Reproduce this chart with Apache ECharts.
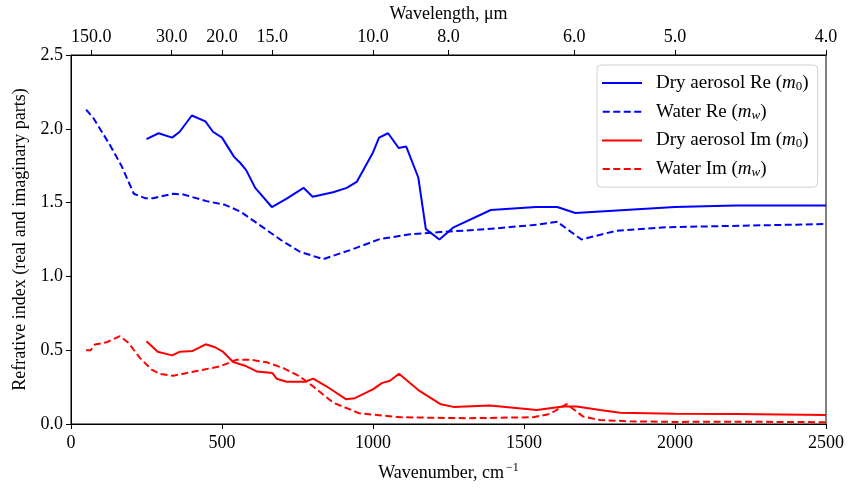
<!DOCTYPE html>
<html>
<head>
<meta charset="utf-8">
<script src="https://cdn.jsdelivr.net/npm/echarts@6/dist/echarts.min.js"></script>
<style>
  html, body { margin: 0; padding: 0; background: #fff; }
  #chart { width: 849px; height: 488px; }
</style>
</head>
<body>
<div id="chart"></div>
<script>
// Dry aerosol, real part (m0)
const dryReWn  = [250, 290, 335, 360, 400, 445, 470, 500, 540, 560, 580, 610, 665, 717, 770, 800, 868, 913, 946, 1000, 1020, 1050, 1085, 1110, 1150, 1175, 1220, 1265, 1390, 1540, 1610, 1670, 2000, 2200, 2500];
const dryRe    = [1.93, 1.97, 1.94, 1.98, 2.09, 2.05, 1.98, 1.94, 1.81, 1.77, 1.72, 1.60, 1.47, 1.53, 1.60, 1.54, 1.57, 1.60, 1.64, 1.84, 1.94, 1.97, 1.87, 1.88, 1.67, 1.32, 1.25, 1.33, 1.45, 1.47, 1.47, 1.43, 1.47, 1.48, 1.48];

// Water, real part (mw)
const waterReWn = [50, 75, 129, 167, 208, 245, 272, 339, 372, 449, 510, 560, 637, 700, 758, 835, 924, 1023, 1122, 1222, 1376, 1542, 1610, 1690, 1807, 1972, 2500];
const waterRe   = [2.13, 2.07, 1.89, 1.75, 1.56, 1.53, 1.53, 1.56, 1.555, 1.51, 1.485, 1.44, 1.33, 1.24, 1.167, 1.117, 1.178, 1.253, 1.285, 1.30, 1.32, 1.35, 1.37, 1.25, 1.31, 1.333, 1.355];

// Dry aerosol, imaginary part (m0)
const dryImWn = [250, 287, 335, 361, 403, 446, 477, 504, 537, 576, 615, 667, 681, 714, 775, 802, 847, 910, 940, 1001, 1029, 1056, 1086, 1150, 1222, 1266, 1387, 1542, 1630, 1674, 1752, 1818, 2000, 2200, 2500];
const dryIm   = [0.56, 0.49, 0.465, 0.49, 0.495, 0.54, 0.52, 0.488, 0.42, 0.395, 0.356, 0.345, 0.307, 0.286, 0.286, 0.307, 0.254, 0.168, 0.175, 0.236, 0.277, 0.293, 0.34, 0.23, 0.136, 0.116, 0.125, 0.095, 0.118, 0.118, 0.095, 0.077, 0.07, 0.068, 0.061];

// Water, imaginary part (mw)
const waterImWn = [50, 65, 79, 118, 162, 190, 228, 267, 295, 339, 383, 438, 493, 549, 593, 648, 703, 758, 802, 868, 955, 1089, 1310, 1531, 1586, 1641, 1696, 1752, 1850, 2000, 2200, 2500];
const waterIm   = [0.50, 0.50, 0.538, 0.554, 0.595, 0.55, 0.448, 0.368, 0.339, 0.327, 0.345, 0.368, 0.39, 0.436, 0.436, 0.418, 0.379, 0.322, 0.254, 0.145, 0.072, 0.046, 0.039, 0.046, 0.068, 0.135, 0.05, 0.027, 0.018, 0.014, 0.016, 0.012];

// Top-axis wavelength ticks (micrometres); placed at wavenumber = 10000 / wavelength
const wavelengthTicks = [150, 30, 20, 15, 10, 8, 6, 5, 4];

const BLUE = '#0000ff';
const RED = '#ff0000';
const FONT = 'Liberation Serif';

// Legend glyphs: a solid bar and a four-dash bar
const SOLID_ICON = 'path://M0,0H40V2H0Z';
const DASH_ICON = 'path://M0,0H7V2H0Z M10.5,0H17.5V2H10.5Z M21,0H28V2H21Z M31.5,0H38.5V2H31.5Z';

const zip = (xs, ys) => xs.map((x, i) => [x, ys[i]]);

function lineSeries(name, wn, vals, color, dashed) {
  return {
    name: name,
    type: 'line',
    data: zip(wn, vals),
    showSymbol: false,
    symbol: 'none',
    xAxisIndex: 0,
    lineStyle: { color: color, width: 2, type: dashed ? [7, 3.5] : 'solid' },
    itemStyle: { color: color },
    animation: false
  };
}

const legendRich = {
  i: { fontFamily: FONT, fontSize: 19, fontStyle: 'italic', color: '#000' },
  sub: { fontFamily: FONT, fontSize: 13, fontStyle: 'italic', color: '#000', verticalAlign: 'bottom', padding: [8, 0, 0, 0] },
  sub0: { fontFamily: FONT, fontSize: 13, color: '#000', verticalAlign: 'bottom', padding: [8, 0, 0, 0] }
};

const legendLabels = {
  'Dry aerosol Re': 'Dry aerosol Re ({i|m}{sub0|0})',
  'Water Re': 'Water Re ({i|m}{sub|w})',
  'Dry aerosol Im': 'Dry aerosol Im ({i|m}{sub0|0})',
  'Water Im': 'Water Im ({i|m}{sub|w})'
};

const chart = echarts.init(document.getElementById('chart'), null, { renderer: 'canvas' });

chart.setOption({
  animation: false,
  backgroundColor: '#fff',
  grid: {
    left: 71, right: 23, top: 55, bottom: 64,
    outerBoundsMode: 'none',
    containLabel: false,
    show: true, borderColor: '#000', borderWidth: 1
  },
  legend: {
    orient: 'vertical',
    left: 597, top: 65,
    padding: [8, 9, 8, 5],
    itemWidth: 40,
    itemHeight: 2,
    itemGap: 8.7,
    backgroundColor: '#fff',
    borderColor: '#d0d0d0',
    borderWidth: 1,
    borderRadius: 4,
    itemStyle: { borderWidth: 0 },
    textStyle: { fontFamily: FONT, fontSize: 19, color: '#000', lineHeight: 20, padding: [0, 0, 0, 9], rich: legendRich },
    formatter: (name) => legendLabels[name],
    data: [
      { name: 'Dry aerosol Re', icon: SOLID_ICON },
      { name: 'Water Re', icon: DASH_ICON },
      { name: 'Dry aerosol Im', icon: SOLID_ICON },
      { name: 'Water Im', icon: DASH_ICON }
    ]
  },
  xAxis: [
    {
      type: 'value',
      position: 'bottom',
      min: 0, max: 2500, interval: 500,
      name: 'Wavenumber, cm{sup|−1}',
      nameLocation: 'middle',
      nameGap: 38,
      nameTextStyle: {
        fontFamily: FONT, fontSize: 18, color: '#000',
        rich: { sup: { fontFamily: FONT, fontSize: 12, color: '#000', verticalAlign: 'top', padding: [0, 0, 10, 2] } }
      },
      axisLine: { show: true, onZero: false, lineStyle: { color: '#000', width: 1 } },
      axisTick: { show: true, inside: false, length: 5, lineStyle: { color: '#000' } },
      axisLabel: { fontFamily: FONT, fontSize: 18, color: '#000', margin: 10, formatter: (v) => String(v) },
      splitLine: { show: false }
    },
    {
      type: 'value',
      position: 'top',
      min: 0, max: 2500,
      name: 'Wavelength, μm',
      nameLocation: 'middle',
      nameGap: 31,
      nameTextStyle: { fontFamily: FONT, fontSize: 18, color: '#000' },
      axisLine: { show: true, onZero: false, lineStyle: { color: '#000', width: 1 } },
      axisTick: {
        show: true, inside: false, length: 5, lineStyle: { color: '#000' },
        customValues: wavelengthTicks.map(l => 10000 / l)
      },
      axisLabel: {
        fontFamily: FONT, fontSize: 18, color: '#000', margin: 9,
        customValues: wavelengthTicks.map(l => 10000 / l),
        formatter: (v) => (10000 / v).toFixed(1)
      },
      splitLine: { show: false }
    }
  ],
  yAxis: {
    type: 'value',
    min: 0, max: 2.5, interval: 0.5,
    name: 'Refrative index (real and imaginary parts)',
    nameLocation: 'middle',
    nameGap: 37,
    nameTextStyle: { fontFamily: FONT, fontSize: 18, color: '#000' },
    axisLine: { show: true, lineStyle: { color: '#000', width: 1 } },
    axisTick: { show: true, inside: false, length: 5, lineStyle: { color: '#000' } },
    axisLabel: { fontFamily: FONT, fontSize: 18, color: '#000', margin: 8, formatter: (v) => v.toFixed(1) },
    splitLine: { show: false }
  },
  series: [
    lineSeries('Dry aerosol Re', dryReWn, dryRe, BLUE, false),
    lineSeries('Water Re', waterReWn, waterRe, BLUE, true),
    lineSeries('Dry aerosol Im', dryImWn, dryIm, RED, false),
    lineSeries('Water Im', waterImWn, waterIm, RED, true)
  ]
});
</script>
</body>
</html>
